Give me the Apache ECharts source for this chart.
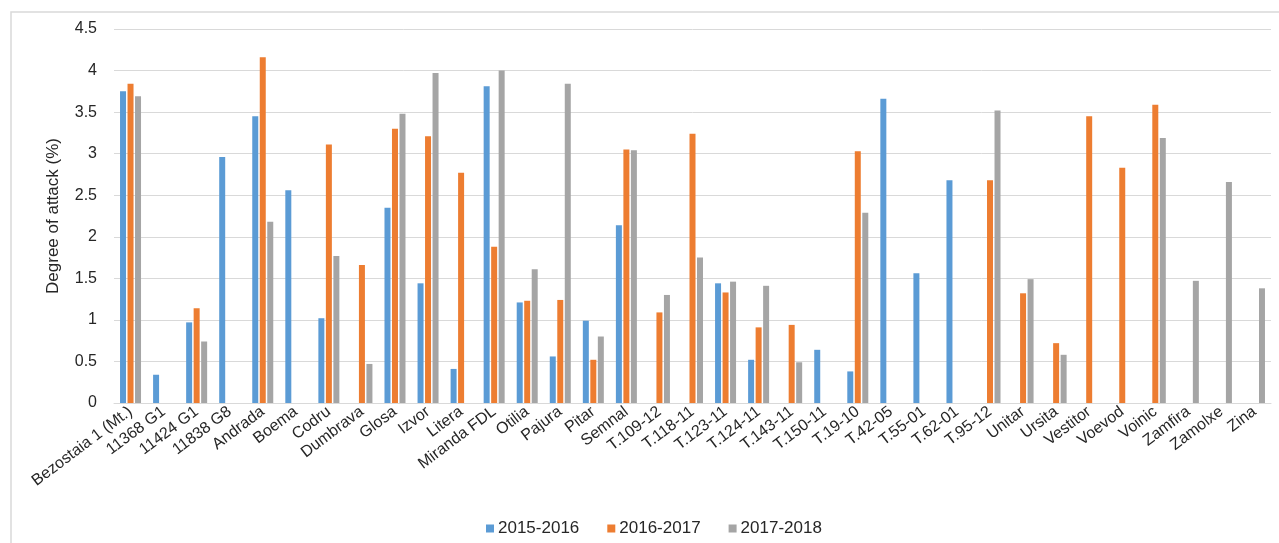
<!DOCTYPE html>
<html>
<head>
<meta charset="utf-8">
<script src="https://cdn.jsdelivr.net/npm/echarts@6/dist/echarts.min.js"></script>
<style>
  html, body { margin: 0; padding: 0; background: #fff; }
  #chart { width: 1279px; height: 543px; }
</style>
</head>
<body>
<div id="chart"></div>
<script>
const categories = [
  'Bezostaia 1 (Mt.)', '11368 G1', '11424 G1', '11838 G8', 'Andrada', 'Boema', 'Codru',
  'Dumbrava', 'Glosa', 'Izvor', 'Litera', 'Miranda FDL', 'Otilia', 'Pajura', 'Pitar',
  'Semnal', 'T.109-12', 'T.118-11', 'T.123-11', 'T.124-11', 'T.143-11', 'T.150-11',
  'T.19-10', 'T.42-05', 'T.55-01', 'T.62-01', 'T.95-12', 'Unitar', 'Ursita', 'Vestitor',
  'Voevod', 'Voinic', 'Zamfira', 'Zamolxe', 'Zina'
]
const seriesNames = ['2015-2016', '2016-2017', '2017-2018']
const values2015 = [3.75, 0.34, 0.97, 2.96, 3.45, 2.56, 1.02, null, 2.35, 1.44, 0.41, 3.81, 1.21, 0.56, 0.99,
  2.14, null, null, 1.44, 0.52, null, 0.64, 0.38, 3.66, 1.56, 2.68, null, null, null, null,
  null, null, null, null, null]
const values2016 = [3.84, null, 1.14, null, 4.16, null, 3.11, 1.66, 3.3, 3.21, 2.77, 1.88, 1.23, 1.24, 0.52,
  3.05, 1.09, 3.24, 1.33, 0.91, 0.94, null, 3.03, null, null, null, 2.68, 1.32, 0.72, 3.45,
  2.83, 3.59, null, null, null]
const values2017 = [3.69, null, 0.74, null, 2.18, null, 1.77, 0.47, 3.48, 3.97, null, 4.0, 1.61, 3.84, 0.8,
  3.04, 1.3, 1.75, 1.46, 1.41, 0.49, null, 2.29, null, null, null, 3.52, 1.49, 0.58, null,
  null, 3.19, 1.47, 2.66, 1.38]
const colors = ['#5b9bd5', '#ed7d31', '#a5a5a5']

const chart = echarts.init(document.getElementById('chart'))

const allValues = [values2015, values2016, values2017]

chart.setOption({
  animation: false,
  color: colors,
  textStyle: { fontFamily: 'Liberation Sans, Arial, sans-serif' },
  graphic: [{
    type: 'rect',
    shape: { x: 11, y: 12, width: 1300, height: 560 },
    style: { fill: 'none', stroke: '#d9d9d9', lineWidth: 1.5 },
    silent: true
  }],
  grid: {
    left: 114,
    right: 8,
    top: 29,
    bottom: 140
  },
  legend: {
    left: 481,
    top: 515,
    itemWidth: 8,
    itemHeight: 8,
    itemGap: 28,
    icon: 'rect',
    textStyle: { fontSize: 17, color: '#262626', padding: [0, 0, 0, -1] },
    data: seriesNames
  },
  xAxis: {
    type: 'category',
    data: categories,
    axisLine: { lineStyle: { color: '#d9d9d9', width: 1 } },
    axisTick: { show: false },
    axisLabel: {
      interval: 0,
      rotate: 37,
      margin: 7,
      fontSize: 16,
      color: '#262626'
    }
  },
  yAxis: {
    type: 'value',
    min: 0,
    max: 4.5,
    interval: 0.5,
    name: 'Degree of attack (%)',
    nameLocation: 'middle',
    nameGap: 52,
    nameTextStyle: { fontSize: 17, color: '#262626' },
    axisLine: { show: false },
    axisTick: { show: false },
    axisLabel: { fontSize: 16, color: '#262626', margin: 17 },
    splitLine: { lineStyle: { color: '#d9d9d9', width: 1 } }
  },
  series: seriesNames.map((name, i) => ({
    name,
    type: 'bar',
    data: allValues[i],
    barWidth: 6,
    barGap: '25%',
    itemStyle: { color: colors[i] }
  }))
})
</script>
</body>
</html>
